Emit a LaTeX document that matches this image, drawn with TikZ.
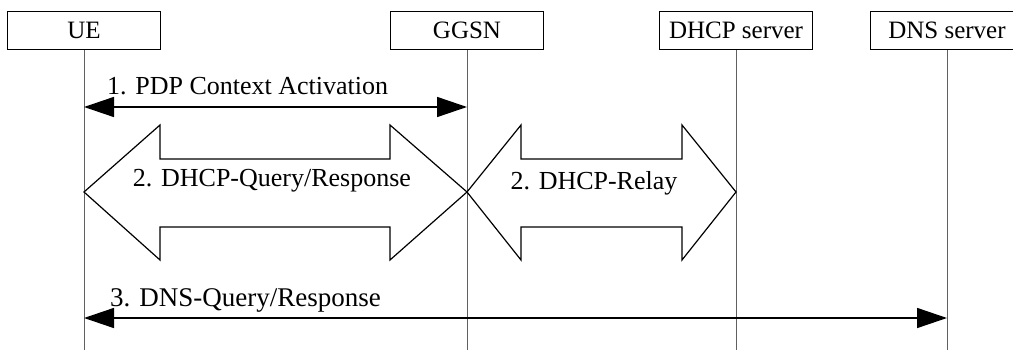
\documentclass[tikz,border=0pt]{standalone}
\usepackage{fontspec}
\setmainfont{Liberation Serif}
\usetikzlibrary{arrows.meta,calc}
\begin{document}
\begin{tikzpicture}[x=1pt,y=-1pt,
  actor/.style={draw, line width=1.2pt, minimum width=153pt, minimum height=38pt, inner sep=0pt, font=\fontsize{25}{25}\selectfont, anchor=north},
  life/.style={draw=gray!75!black, line width=0.9pt},
  msg/.style={line width=1.5pt, {Triangle[length=30pt,width=20pt]}-{Triangle[length=30pt,width=20pt]}},
  lbl/.style={font=\fontsize{26}{26}\selectfont, inner sep=0pt, anchor=base west},
  biglbl/.style={font=\fontsize{26}{26}\selectfont, inner sep=0pt, anchor=base},
  big/.style={draw, line width=1.2pt}]
\useasboundingbox (0,0) rectangle (1013,350);
\clip (0,0) rectangle (1013,350);
% actors
\node[actor] (ue) at (84,11) {UE};
\node[actor] (ggsn) at (467,11) {GGSN};
\node[actor] (dhcp) at (736,11) {DHCP server};
\node[actor] (dns) at (947,11) {DNS server};
% lifeline ends
\coordinate (ueE) at (ue.south |- 0,350);
\coordinate (ggsnE) at (ggsn.south |- 0,350);
\coordinate (dhcpE) at (dhcp.south |- 0,350);
\coordinate (dnsE) at (dns.south |- 0,350);
\draw[life] (ue.south) -- (ueE);
\draw[life] (ggsn.south) -- (ggsnE);
\draw[life] (dhcp.south) -- (dhcpE);
\draw[life] (dns.south) -- (dnsE);
% message 1
\coordinate (m1a) at (ue.south |- 0,107);
\coordinate (m1b) at (ggsn.south |- 0,107);
\draw[msg] (m1a) -- (m1b);
\node[lbl] (l1) at (107,95) {1. PDP Context Activation};
% big arrow 1
\coordinate (b1a) at (ue.south |- 0,192);
\coordinate (b1b) at (ggsn.south |- 0,192);
\draw[big] (b1a) -- (160,125) -- (160,159) -- (390,159) -- (390,125) -- (b1b)
  -- (390,260) -- (390,227) -- (160,227) -- (160,260) -- cycle;
\node[biglbl] (l2) at (272,186) {2. DHCP-Query/Response};
% big arrow 2
\coordinate (b2a) at (ggsn.south |- 0,192);
\coordinate (b2b) at (dhcp.south |- 0,192);
\draw[big] (b2a) -- (521,125) -- (521,159) -- (682,159) -- (682,125) -- (b2b)
  -- (682,260) -- (682,227) -- (521,227) -- (521,260) -- cycle;
\node[biglbl] (l3) at (594,190) {2. DHCP-Relay};
% message 3
\coordinate (m3a) at (ue.south |- 0,318);
\coordinate (m3b) at (dns.south |- 0,318);
\draw[msg] (m3a) -- (m3b);
\node[lbl, font=\fontsize{27}{27}\selectfont] (l4) at (110,306) {3. DNS-Query/Response};
\end{tikzpicture}
\end{document}
